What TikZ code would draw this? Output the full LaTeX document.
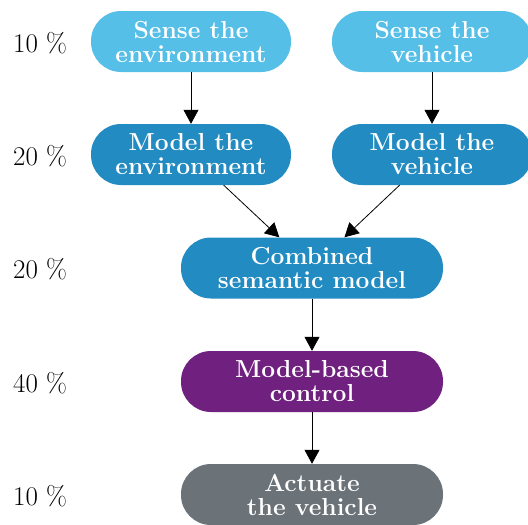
\documentclass[tikz,border=0pt]{standalone}
\usetikzlibrary{arrows.meta}
\definecolor{lightblue}{HTML}{56BFE7}
\definecolor{midblue}{HTML}{228CC2}
\definecolor{ctrlpurple}{HTML}{70217F}
\definecolor{actgray}{HTML}{6B7278}
\tikzset{
  box/.style={rectangle, rounded corners=30pt, minimum height=61pt, text=white,
    align=center, inner sep=0pt, font=\fontsize{24.6}{24}\selectfont\bfseries},
  small/.style={box, minimum width=200pt},
  wide/.style={box, minimum width=262pt},
  pct/.style={font=\fontsize{27}{27}\selectfont, inner sep=0pt},
  arr/.style={-{Triangle[width=15pt,length=14pt]}, line width=0.8pt}
}
\begin{document}
\begin{tikzpicture}[x=1pt,y=-1pt]
\useasboundingbox (0,0) rectangle (528,525);
\node[small, fill=lightblue] (se) at (191,41.5) {Sense the\\environment};
\node[small, fill=lightblue] (sv) at (432,41.5) {Sense the\\vehicle};
\node[small, fill=midblue] (me) at (191,154.5) {Model the\\environment};
\node[small, fill=midblue] (mv) at (432,154.5) {Model the\\vehicle};
\node[wide, fill=midblue] (cm) at (312,268) {Combined\\semantic model};
\node[wide, fill=ctrlpurple] (mc) at (312,381.5) {Model-based\\control};
\node[wide, fill=actgray] (av) at (312,494.5) {Actuate\\the vehicle};
\node[pct] (p1) at (40,43) {10 \%};
\node[pct] (p2) at (40,156) {20 \%};
\node[pct] (p3) at (40,269) {20 \%};
\node[pct] (p4) at (40,383) {40 \%};
\node[pct] (p5) at (40,496) {10 \%};
\draw[arr] (se) -- (me);
\draw[arr] (sv) -- (mv);
\draw[arr] (me) -- (cm);
\draw[arr] (mv) -- (cm);
\draw[arr] (cm) -- (mc);
\draw[arr] (mc) -- (av);
\end{tikzpicture}
\end{document}
